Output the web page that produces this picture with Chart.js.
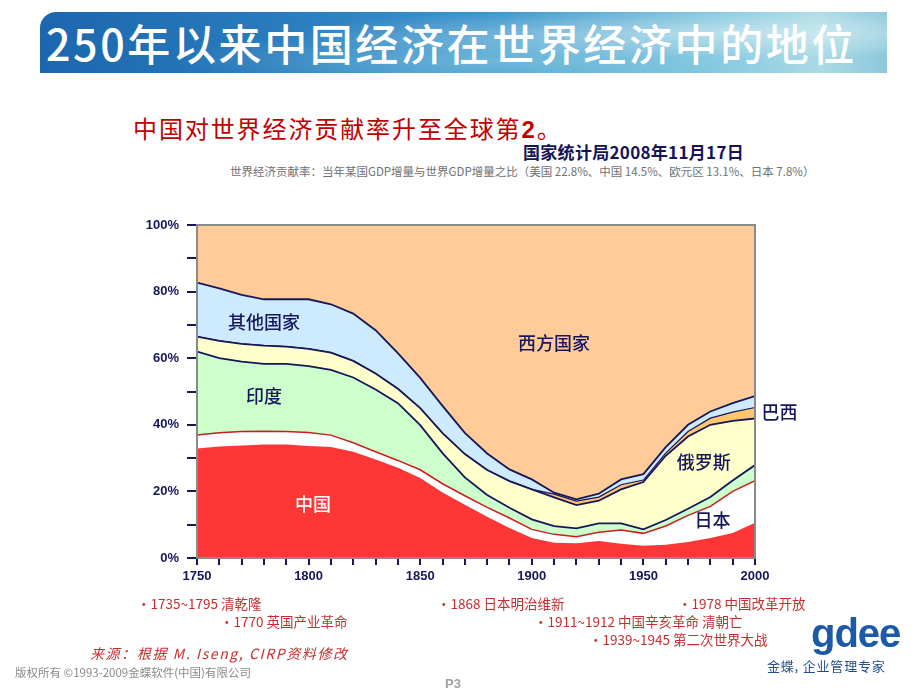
<!DOCTYPE html>
<html lang="zh-CN">
<head>
<meta charset="utf-8">
<title>250年以来中国经济在世界经济中的地位</title>
<script src="https://cdn.jsdelivr.net/npm/chart.js@4.4.1/dist/chart.umd.min.js"></script>
<style>
  html, body { margin: 0; padding: 0; background: #fff; }
  #page { position: relative; width: 920px; height: 690px; overflow: hidden; font-family: "Noto Sans CJK SC", sans-serif; }
  #banner {
    position: absolute; left: 40px; top: 12px; width: 847px; height: 61px;
    border-top-left-radius: 16px;
    background:
      radial-gradient(ellipse at 80% 35%, rgba(255,255,255,0.45), rgba(255,255,255,0) 45%),
      radial-gradient(ellipse at 55% 80%, rgba(160,220,235,0.5), rgba(160,220,235,0) 50%),
      linear-gradient(90deg, #1c66ad 0%, #2a7dbf 30%, #3d96cc 55%, #7cc3dc 78%, #aadbe6 92%, #8cc8dc 100%);
  }
  #title { position: absolute; left: 46px; top: 14px; color: #fff; font-size: 43px; font-weight: 500; letter-spacing: 2.6px; line-height: 56px; white-space: nowrap; }
  .txt { position: absolute; white-space: nowrap; }
  #sub { left: 133px; top: 112px; color: #c00000; font-size: 24px; line-height: 32px; letter-spacing: 1.9px; }
  #sub b { font-family: "Liberation Sans", Arial, sans-serif; }
  #src { left: 523px; top: 140px; color: #141456; font-size: 17px; font-weight: 700; line-height: 24px; letter-spacing: 0.3px; }
  #note { left: 230px; top: 163px; color: #707070; font-size: 11.5px; line-height: 16px; }
  .ev { color: #c43030; font-size: 13.5px; line-height: 18px; }
  #cite { left: 90px; top: 644px; color: #c43030; font-size: 14px; line-height: 18px; font-style: italic; letter-spacing: 1.6px; }
  #copy { left: 15px; top: 664px; color: #8a8a8a; font-size: 11.5px; line-height: 16px; }
  #pno { left: 445px; top: 676px; color: #a0a0a0; font-size: 13px; font-weight: 700; font-family: "Liberation Sans", Arial, sans-serif; }
  #logo { left: 811px; top: 608px; color: #1a5aa8; font-size: 40px; font-weight: 700; font-family: "Liberation Sans", Arial, sans-serif; letter-spacing: -1px; line-height: 50px; }
  #slogan { left: 767px; top: 657px; color: #24508a; font-size: 13px; line-height: 18px; letter-spacing: 0.8px; }
  #chart { position: absolute; left: 0; top: 0; }
</style>
</head>
<body>
<div id="page">
  <div id="banner"></div>
  <div id="title">250年以来中国经济在世界经济中的地位</div>
  <div class="txt" id="sub">中国对世界经济贡献率升至全球第<b>2</b>。</div>
  <div class="txt" id="src">国家统计局2008年11月17日</div>
  <div class="txt" id="note">世界经济贡献率：当年某国GDP增量与世界GDP增量之比（美国 22.8%、中国 14.5%、欧元区 13.1%、日本 7.8%）</div>
  <canvas id="chart" width="920" height="690"></canvas>
  <div class="txt ev" style="left:137px;top:594px">•1735~1795 清乾隆</div>
  <div class="txt ev" style="left:220px;top:612px">•1770 英国产业革命</div>
  <div class="txt ev" style="left:437px;top:594px">•1868 日本明治维新</div>
  <div class="txt ev" style="left:534px;top:612px">•1911~1912 中国辛亥革命 清朝亡</div>
  <div class="txt ev" style="left:589px;top:630px">•1939~1945 第二次世界大战</div>
  <div class="txt ev" style="left:678px;top:594px">•1978 中国改革开放</div>
  <div class="txt" id="cite">来源：根据 M. Iseng, CIRP资料修改</div>
  <div class="txt" id="copy">版权所有 ©1993-2009金蝶软件(中国)有限公司</div>
  <div class="txt" id="pno">P3</div>
  <div class="txt" id="logo">gdee</div>
  <div class="txt" id="slogan">金蝶, 企业管理专家</div>
</div>
<script>
// --- data (share of world GDP, %) ---
const years = [1750, 1760, 1770, 1780, 1790, 1800, 1810, 1820, 1830, 1840, 1850, 1860, 1870,
  1880, 1890, 1900, 1910, 1920, 1930, 1940, 1950, 1960, 1970, 1980, 1990, 2000];
const china   = [32.9, 33.5, 33.8, 34.1, 34.1, 33.6, 33.3, 31.9, 29.6, 27.1, 24.0, 19.7, 16.0,
  12.4, 9.0, 6.0, 4.6, 4.4, 5.1, 4.3, 3.7, 4.0, 4.8, 6.0, 7.5, 10.6];
const japan   = [4.0, 4.1, 4.2, 4.0, 3.9, 4.1, 3.6, 2.7, 2.3, 2.2, 2.5, 2.6, 2.7,
  2.8, 3.0, 2.6, 2.5, 2.0, 2.6, 4.1, 3.7, 5.6, 8.0, 9.5, 12.5, 12.6];
const india   = [25.1, 22.4, 21.0, 20.2, 20.3, 19.9, 19.6, 19.6, 18.7, 17.2, 13.4, 9.2, 5.5,
  3.7, 3.1, 3.0, 2.5, 2.5, 2.7, 2.0, 1.2, 1.8, 2.0, 2.8, 3.3, 4.7];
const russia  = [4.5, 5.2, 5.3, 5.5, 5.2, 5.2, 5.2, 5.0, 4.8, 4.3, 5.1, 6.0, 7.0,
  7.5, 8.0, 9.0, 8.6, 7.0, 6.8, 10.2, 14.2, 19.3, 21.7, 21.7, 17.9, 14.0];
const brazil  = [0, 0, 0, 0, 0, 0, 0, 0, 0, 0, 0, 0, 0,
  0, 0, 0, 1.0, 1.2, 1.1, 1.4, 0.6, 0.8, 1.5, 2.0, 2.6, 3.3];
const others  = [16.2, 15.8, 14.7, 13.9, 14.2, 14.9, 14.5, 14.2, 13.0, 10.7, 9.1, 8.2, 6.4,
  5.0, 3.5, 3.0, 0.4, 0.5, 1.0, 1.6, 1.8, 1.8, 2.0, 2.0, 2.7, 3.4];
const western = [17.3, 19.0, 21.0, 22.3, 22.3, 22.3, 23.8, 26.6, 31.6, 38.5, 45.9, 54.3, 62.4,
  68.6, 73.4, 76.4, 80.4, 82.4, 80.7, 76.4, 74.8, 66.7, 60.0, 56.0, 53.5, 51.4];
const yTicks = [0, 20, 40, 60, 80, 100];
const xTickLabels = [1750, 1800, 1850, 1900, 1950, 2000];

const NAVY = "#16165a";

function pts(arr) {
  return years.map((y, i) => ({ x: y, y: arr[i] }));
}

function layer(label, arr, fillColor, lineColor, lineWidth, fill) {
  return {
    label,
    data: pts(arr),
    backgroundColor: fillColor,
    borderColor: lineColor,
    borderWidth: lineWidth,
    pointRadius: 0,
    tension: 0,
    fill,
  };
}

// area labels, placed in data units
const areaLabels = [
  { text: "其他国家", x: 1780, y: 70.9, color: NAVY },
  { text: "印度", x: 1780, y: 48.6, color: NAVY },
  { text: "中国", x: 1802, y: 16.2, color: "#ffffff" },
  { text: "西方国家", x: 1910, y: 64.6, color: NAVY },
  { text: "巴西", x: 2011, y: 43.8, color: NAVY },
  { text: "俄罗斯", x: 1977, y: 28.8, color: NAVY },
  { text: "日本", x: 1981, y: 11.4, color: NAVY },
];

const decorations = {
  id: "decorations",
  afterDatasetsDraw(chart) {
    const { ctx, chartArea: a, scales } = chart;
    ctx.save();
    ctx.strokeStyle = "#8a8a8a";
    ctx.lineWidth = 2;
    ctx.strokeRect(a.left, a.top, a.right - a.left, a.bottom - a.top);
    ctx.font = "500 18px 'Noto Sans CJK SC'";
    ctx.textAlign = "center";
    ctx.textBaseline = "middle";
    areaLabels.forEach((l) => {
      ctx.fillStyle = l.color;
      ctx.fillText(l.text, scales.x.getPixelForValue(l.x), scales.y.getPixelForValue(l.y));
    });
    ctx.restore();
  },
};

new Chart(document.getElementById("chart"), {
  type: "line",
  data: {
    datasets: [
      layer("中国", china, "#ff3636", "#ff3636", 0, "origin"),
      layer("日本", japan, "#ffffff", "#c81e1e", 1.5, "-1"),
      layer("印度", india, "#ccffcc", NAVY, 1.8, "-1"),
      layer("俄罗斯", russia, "#ffffcc", NAVY, 1.8, "-1"),
      layer("巴西", brazil, "#ffc66e", NAVY, 1.2, "-1"),
      layer("其他国家", others, "#cdeaff", NAVY, 1.8, "-1"),
      layer("西方国家", western, "#ffcc99", "#ffcc99", 0, "-1"),
    ],
  },
  options: {
    responsive: false,
    animation: false,
    layout: { padding: { left: 130, top: 225, right: 165, bottom: 102 } },
    plugins: { legend: { display: false }, tooltip: { enabled: false } },
    scales: {
      x: {
        type: "linear",
        min: 1750,
        max: 2000,
        afterFit(s) { s.height = 30; },
        afterBuildTicks(s) {
          s.ticks = [];
          for (let v = 1750; v <= 2000; v += 10) s.ticks.push({ value: v });
        },
        ticks: {
          autoSkip: false,
          maxRotation: 0,
          padding: 4,
          color: NAVY,
          font: { family: "'Liberation Sans', Arial, sans-serif", size: 13, weight: "bold" },
          callback: (v) => (xTickLabels.includes(v) ? String(v) : ""),
        },
        grid: { drawOnChartArea: false, drawTicks: true, tickLength: 7, color: NAVY, lineWidth: 2 },
        border: { display: false },
      },
      y: {
        stacked: true,
        min: 0,
        max: 100,
        afterFit(s) { s.width = 67; },
        ticks: {
          stepSize: 10,
          padding: 8,
          color: NAVY,
          font: { family: "'Liberation Sans', Arial, sans-serif", size: 13, weight: "bold" },
          callback: (v) => (yTicks.includes(v) ? v + "%" : ""),
        },
        grid: { drawOnChartArea: false, drawTicks: true, tickLength: 10, color: NAVY, lineWidth: 2 },
        border: { display: false },
      },
    },
  },
  plugins: [decorations],
});
</script>
</body>
</html>
